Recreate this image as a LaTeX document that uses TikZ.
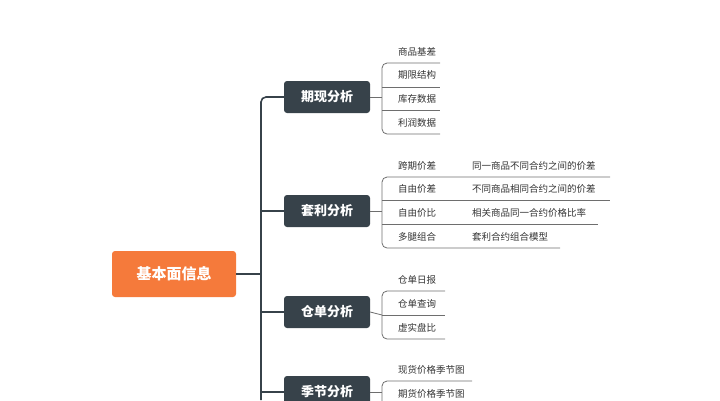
\documentclass[tikz,border=0pt]{standalone}
\usepackage{fontspec}
\setmainfont{Noto Sans CJK SC}
\begin{document}
\begin{tikzpicture}[x=1pt,y=-1pt,
  root/.style={fill=rootc,rounded corners=3pt,minimum width=124pt,minimum height=46pt,text=white,font=\fontsize{15}{15}\selectfont\bfseries,inner sep=0pt},
  br/.style={fill=brc,rounded corners=3pt,minimum width=86pt,minimum height=32pt,text=white,font=\fontsize{13}{13}\selectfont\bfseries,inner sep=0pt},
  lf/.style={anchor=west,font=\fontsize{9.5}{10}\selectfont,text=txtc,inner sep=0pt},
  trunk/.style={draw=brc,line width=1.6pt,rounded corners=5pt},
  thin/.style={draw=linec,line width=0.8pt,rounded corners=5pt}]
\definecolor{rootc}{HTML}{F57A3B}
\definecolor{brc}{HTML}{37424A}
\definecolor{linec}{HTML}{6E6E6E}
\definecolor{txtc}{HTML}{333333}
\useasboundingbox (0,0) rectangle (720,400);
\node[root] (r) at (174,274) {基本面信息};
\node[br] (b1) at (327,97) {期现分析};
\node[br] (b2) at (327,211) {套利分析};
\node[br] (b3) at (327,312) {仓单分析};
\node[br] (b4) at (327,392) {季节分析};
\coordinate (t) at (261,274);
\draw[trunk] (r.east) -- (t);
\draw[trunk] (b1.west) -- (261,97) -- (261,400);
\foreach \b in {b2,b3,b4} \draw[trunk] (261,0 |- \b.west) -- (\b.west);
% leaves b1
\foreach \y/\t in {52/商品基差,75/期限结构,99/库存数据,123/利润数据} \node[lf] at (398,\y) {\t};
\draw[thin] (b1.east) -- (382,97);
\draw[thin] (440,63) -- (382,63) -- (382,134) -- (440,134);
\foreach \y in {87,110} \draw[thin] (382,\y) -- (440,\y);
% b2
\foreach \y/\t/\u in {166/跨期价差/同一商品不同合约之间的价差,189/自由价差/不同商品相同合约之间的价差,213/自由价比/相关商品同一合约价格比率,237/多腿组合/套利合约组合模型} {\node[lf] at (398,\y) {\t}; \node[lf] at (472,\y) {\u};}
\draw[thin] (b2.east) -- (382,211);
\draw[thin] (610,177) -- (382,177) -- (382,248) -- (560,248);
\draw[thin] (382,200) -- (610,200);
\draw[thin] (382,224) -- (598,224);
% b3
\foreach \y/\t in {280/仓单日报,304/仓单查询,328/虚实盘比} \node[lf] at (398,\y) {\t};
\draw[thin] (b3.east) -- (382,315);
\draw[thin] (445,291) -- (382,291) -- (382,339) -- (445,339);
\draw[thin] (382,315) -- (445,315);
% b4
\foreach \y/\t in {370/现货价格季节图,394/期货价格季节图} \node[lf] at (398,\y) {\t};
\draw[thin] (b4.east) -- (382,392);
\draw[thin] (472,381) -- (382,381) -- (382,410);
\draw[thin] (382,405) -- (472,405);
\end{tikzpicture}
\end{document}
